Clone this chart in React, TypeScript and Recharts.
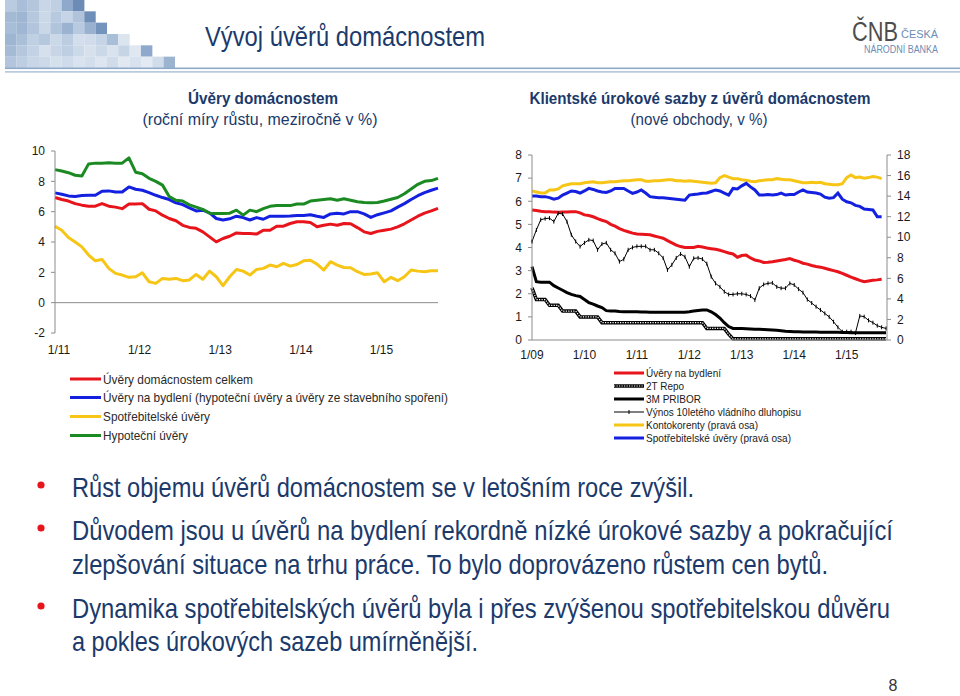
import React from "react";
import { LineChart, Line, XAxis, YAxis, ReferenceLine } from "recharts";

const FONT = "'Liberation Sans', Arial, Helvetica, sans-serif";
const NARROW = "'Liberation Sans Narrow', 'Arial Narrow', 'Liberation Sans', Arial, sans-serif";
const NAVY = "#1b3a6b";
const RED = "#e8141c";
const BLUE = "#1420e0";
const YELLOW = "#f6c515";
const GREEN = "#1c8a22";
const AXIS = "#8c8c8c";

function monthLabels(startYear: number, count: number): string[] {
  const out: string[] = [];
  for (let i = 0; i < count; i++) {
    const m = (i % 12) + 1;
    const y = (startYear + Math.floor(i / 12)) % 100;
    out.push(`${m}/${String(y).padStart(2, "0")}`);
  }
  return out;
}

// ---------- Left chart: Úvěry domácnostem (Jan 2011 – Oct 2015) ----------
const leftCategories = monthLabels(2011, 58);
const leftXTicks = ["1/11", "1/12", "1/13", "1/14", "1/15"];
const leftYTicks = [-2, 0, 2, 4, 6, 8, 10];

const uveryCelkem = [6.93, 6.8, 6.7, 6.53, 6.43, 6.36, 6.36, 6.53, 6.36, 6.3, 6.2, 6.5, 6.5, 6.53, 6.16, 6.05, 5.77, 5.55, 5.4, 5.1, 4.96, 4.9, 4.67, 4.34, 4.01, 4.23, 4.38, 4.6, 4.56, 4.56, 4.52, 4.78, 4.78, 5.04, 5.04, 5.22, 5.33, 5.33, 5.28, 5.0, 5.1, 5.18, 5.1, 5.22, 5.2, 4.95, 4.67, 4.56, 4.7, 4.78, 4.85, 5.0, 5.2, 5.45, 5.7, 5.9, 6.05, 6.22];
const uveryBydleni = [7.24, 7.15, 7.04, 7.0, 7.06, 7.08, 7.08, 7.35, 7.37, 7.3, 7.3, 7.63, 7.48, 7.41, 7.26, 7.08, 6.93, 6.8, 6.58, 6.47, 6.25, 6.05, 6.1, 5.92, 5.55, 5.45, 5.53, 5.7, 5.61, 5.45, 5.61, 5.5, 5.7, 5.7, 5.7, 5.72, 5.75, 5.75, 5.8, 5.7, 5.62, 5.85, 5.9, 5.85, 6.0, 6.0, 5.85, 5.62, 5.8, 5.92, 6.05, 6.3, 6.53, 6.8, 7.05, 7.25, 7.41, 7.55];
const uverySpotrebitelske = [5.04, 4.78, 4.3, 4.0, 3.68, 3.14, 2.76, 2.85, 2.26, 1.93, 1.82, 1.67, 1.71, 1.97, 1.38, 1.27, 1.6, 1.54, 1.6, 1.45, 1.5, 1.86, 1.54, 2.08, 1.71, 1.12, 1.71, 2.19, 2.08, 1.82, 2.19, 2.26, 2.48, 2.37, 2.59, 2.41, 2.52, 2.76, 2.8, 2.54, 2.15, 2.7, 2.48, 2.32, 2.3, 2.04, 1.86, 1.89, 1.97, 1.38, 1.67, 1.45, 1.71, 2.15, 2.08, 2.04, 2.1, 2.1];
const uveryHypotecni = [8.77, 8.68, 8.57, 8.4, 8.35, 9.15, 9.2, 9.2, 9.22, 9.2, 9.2, 9.55, 8.6, 8.5, 8.2, 8.0, 7.75, 7.0, 6.75, 6.7, 6.45, 6.3, 6.15, 5.9, 5.88, 5.88, 5.9, 6.1, 5.77, 6.1, 6.0, 6.2, 6.35, 6.4, 6.4, 6.4, 6.5, 6.5, 6.7, 6.75, 6.8, 6.85, 6.75, 6.85, 6.75, 6.65, 6.6, 6.58, 6.6, 6.7, 6.82, 6.93, 7.18, 7.5, 7.8, 8.0, 8.05, 8.2];

const leftSeries = [
  { key: "celkem", name: "Úvěry domácnostem celkem", color: RED, values: uveryCelkem, tl: 150 },
  { key: "bydleni", name: "Úvěry na bydlení (hypoteční úvěry a úvěry ze stavebního spoření)", color: BLUE, values: uveryBydleni, tl: 345 },
  { key: "spotrebitelske", name: "Spotřebitelské úvěry", color: YELLOW, values: uverySpotrebitelske, tl: 107 },
  { key: "hypotecni", name: "Hypoteční úvěry", color: GREEN, values: uveryHypotecni, tl: 85 },
];

const leftData = leftCategories.map((m, i) => {
  const row: any = { m };
  leftSeries.forEach((s) => (row[s.key] = s.values[i] ?? null));
  return row;
});

// ---------- Right chart: Klientské úrokové sazby (Jan 2009 – Oct 2015) ----------
const rightCategories = monthLabels(2009, 82);
const rightXTicks = ["1/09", "1/10", "1/11", "1/12", "1/13", "1/14", "1/15"];
const rightLeftTicks = [0, 1, 2, 3, 4, 5, 6, 7, 8];
const rightRightTicks = [0, 2, 4, 6, 8, 10, 12, 14, 16, 18];

const sazbyBydleni = [5.62, 5.6, 5.57, 5.55, 5.55, 5.53, 5.52, 5.53, 5.54, 5.55, 5.55, 5.5, 5.41, 5.38, 5.33, 5.25, 5.18, 5.12, 5.0, 4.92, 4.82, 4.74, 4.68, 4.62, 4.58, 4.57, 4.56,
  4.55, 4.5, 4.45, 4.4, 4.3, 4.2, 4.1, 4.04, 4.0, 4.0, 4.0, 4.05, 4.02, 3.98, 3.95, 3.92, 3.88, 3.82, 3.76, 3.72, 3.58, 3.65, 3.67, 3.55, 3.46, 3.42, 3.35, 3.36, 3.38,
  3.42, 3.45, 3.48, 3.52, 3.45, 3.4, 3.32, 3.28, 3.22, 3.18, 3.15, 3.1, 3.05, 3.0, 2.95, 2.88, 2.8, 2.72, 2.65, 2.58, 2.52, 2.55, 2.58, 2.6, 2.63];
const repo2T = [2.25, 1.75, 1.75, 1.75, 1.5, 1.5, 1.5, 1.25, 1.25, 1.25, 1.25, 1.0, 1.0, 1.0, 1.0, 1.0,
  0.75, 0.75, 0.75, 0.75, 0.75, 0.75, 0.75, 0.75, 0.75, 0.75, 0.75, 0.75, 0.75, 0.75, 0.75, 0.75, 0.75, 0.75, 0.75, 0.75, 0.75, 0.75, 0.75, 0.75,
  0.5, 0.5, 0.5, 0.5, 0.5, 0.25,
  0.05, 0.05, 0.05, 0.05, 0.05, 0.05, 0.05, 0.05, 0.05, 0.05, 0.05, 0.05, 0.05, 0.05, 0.05, 0.05, 0.05, 0.05,
  0.05, 0.05, 0.05, 0.05, 0.05, 0.05, 0.05, 0.05, 0.05, 0.05, 0.05, 0.05, 0.05, 0.05, 0.05, 0.05, 0.05, 0.05];
const pribor3M = [3.17, 2.52, 2.5, 2.5, 2.5, 2.35, 2.25, 2.15, 2.05, 1.97, 1.92, 1.88, 1.75, 1.62, 1.55, 1.47, 1.4, 1.27,
  1.25, 1.25, 1.23, 1.22, 1.22, 1.22, 1.22, 1.21, 1.21, 1.2, 1.2, 1.2, 1.2, 1.2, 1.2, 1.2, 1.2, 1.2, 1.22, 1.25, 1.28, 1.3, 1.3,
  1.22, 1.1, 0.95, 0.75, 0.58, 0.5, 0.5, 0.5, 0.49, 0.48, 0.47, 0.46, 0.45, 0.44, 0.43,
  0.42, 0.4, 0.38, 0.37, 0.36, 0.36, 0.35, 0.35, 0.35, 0.35, 0.34, 0.34, 0.34, 0.33, 0.33, 0.32, 0.32, 0.31, 0.31, 0.31, 0.31, 0.31, 0.31, 0.31, 0.31, 0.31];
const vynos10Y = [4.26, 4.76, 5.2, 5.25, 5.27, 5.12, 5.48, 5.45, 5.12, 4.55, 4.26, 4.04, 4.2, 4.33, 4.3, 3.9, 4.15, 4.2, 3.9, 3.75, 3.39, 3.49, 3.9, 4.0, 4.05, 4.05, 4.05, 3.9,
  3.9, 3.75, 3.55, 3.03, 3.25, 3.55, 3.72, 3.6, 3.17, 3.53, 3.55, 3.5, 3.3, 2.74, 2.45, 2.3, 2.09, 1.97, 1.97, 2.0, 2.0, 1.97, 1.9, 1.73, 2.24, 2.4, 2.45, 2.47,
  2.3, 2.24, 2.24, 2.45, 2.38, 2.2, 2.05, 1.75, 1.6, 1.44, 1.3, 1.15, 1.0, 0.79, 0.55, 0.36, 0.36, 0.36, 0.3, 1.04, 1.01, 0.85, 0.75, 0.62, 0.55, 0.5];
const kontokorenty = [14.5, 14.4, 14.3, 14.3, 14.6, 14.6, 14.7, 15.0, 15.1, 15.2, 15.2, 15.2, 15.3, 15.35, 15.4, 15.3, 15.3, 15.35, 15.4, 15.4,
  15.45, 15.5, 15.5, 15.55, 15.6, 15.6, 15.45, 15.45, 15.5, 15.5, 15.55, 15.6, 15.6, 15.5, 15.5, 15.45, 15.5, 15.45, 15.4, 15.35,
  15.3, 15.25, 15.3, 15.8, 16.0, 15.85, 15.7, 15.7, 15.6, 15.55, 15.45, 15.4, 15.5, 15.55, 15.6, 15.6, 15.7, 15.65, 15.6, 15.6,
  15.5, 15.4, 15.3, 15.3, 15.35, 15.3, 15.35, 15.2, 15.15, 15.1, 15.1, 15.2, 15.8, 16.05, 15.8, 15.85, 15.75, 15.8, 15.9, 15.85, 15.7];
const spotrebitelskeSazby = [14.0, 14.0, 13.95, 13.95, 13.85, 13.7, 13.8, 14.1, 14.3, 14.5, 14.45, 14.3, 14.5, 14.75, 14.65, 14.5, 14.4, 14.35, 14.5, 14.75, 14.75, 14.75, 14.5, 14.27, 14.4, 14.6, 14.3,
  13.95, 13.9, 13.85, 13.85, 13.8, 13.75, 13.7, 13.65, 13.6, 14.1, 14.15, 14.2, 14.27, 14.3, 14.45, 14.6, 14.5, 14.3, 14.1,
  14.75, 14.7, 15.0, 15.24, 14.9, 14.6, 14.1, 14.1, 14.15, 14.1,
  14.15, 14.3, 14.1, 14.15, 14.15, 14.4, 14.6, 14.4, 14.35, 14.3, 14.2, 13.9, 13.8, 13.85, 14.3, 13.7, 13.45, 13.35, 13.1, 13.0, 12.75, 12.7, 12.65, 12.0, 12.0];

const rightData = rightCategories.map((m, i) => ({
  m,
  bydleni: sazbyBydleni[i] ?? null,
  repo: repo2T[i] ?? null,
  pribor: pribor3M[i] ?? null,
  vynos: vynos10Y[i] ?? null,
  konto: kontokorenty[i] ?? null,
  spotr: spotrebitelskeSazby[i] ?? null,
}));

const rightLegend = [
  { name: "Úvěry na bydlení", kind: "solid", color: RED, tl: 75 },
  { name: "2T Repo", kind: "hatch", color: "#000", tl: 38 },
  { name: "3M PRIBOR", kind: "solid", color: "#000", tl: 55 },
  { name: "Výnos 10letého vládního dluhopisu", kind: "thin", color: "#000", tl: 155 },
  { name: "Kontokorenty (pravá osa)", kind: "solid", color: YELLOW, tl: 112 },
  { name: "Spotřebitelské úvěry (pravá osa)", kind: "solid", color: BLUE, tl: 145 },
];

const bullets = [
  { text: "Růst objemu úvěrů domácnostem se v letošním roce zvýšil.", y: 497, w: 622, dot: true },
  { text: "Důvodem jsou u úvěrů na bydlení rekordně nízké úrokové sazby a pokračující", y: 540, w: 821, dot: true },
  { text: "zlepšování situace na trhu práce. To bylo doprovázeno růstem cen bytů.", y: 574, w: 756, dot: false },
  { text: "Dynamika spotřebitelských úvěrů byla i přes zvýšenou spotřebitelskou důvěru", y: 618, w: 818, dot: true },
  { text: "a pokles úrokových sazeb umírněnější.", y: 651, w: 406, dot: false },
];

const mosaic: string[][] = [
  ["#b9cbe0", "#a9bed8", "#b3c6dc", "#c8d6e7", "#c0d0e3", "#8ea9cb", "#6c8bb6"],
  ["#a3b9d4", "#9fb6d2", "#b6c8dd", "#cbd8e8", "#b7c9df", "#c5d4e6", "#b0c3db", "#6f8eb8"],
  ["#a8bdd7", "#a0b7d3", "#b2c5dc", "#c9d7e7", "#b0c4dc", "#9bb3d1", "#b8cae0", "#9ab2d0", "#7493bd"],
  ["#9fb6d2", "#aabfd8", "#c0d0e3", "#b6c8de", "#cad8e8", "#bccce1", "#d2deec", "#d0dcea", "#c5d4e6", "#a9bfd8", "#dbe5f0"],
  ["#a4bad5", "#b5c7dd", "#c3d2e5", "#d6e0ed", "#c7d5e7", "#bfcfe3", "#ccd9e9", "#d7e1ee", "#cbd8e8", "#d9e3ef", "#c6d5e6", "#dfe7f1", "#8fa9cc"],
  ["#b2c5dc", "#bdcde2", "#c8d6e7", "#cdd9e9", "#d5e0ed", "#cfdbea", "#d9e3ef", "#d3deec", "#dde6f0", "#d1dceb", "#e1e8f2", "#d8e2ee", "#e3eaf3", "#d0dcea", "#9db4d1"],
];

// Text squeezed horizontally (the slide uses a narrow face)
function FitText(props: any) {
  const { x, y, w, sx, size, anchor = "start", weight = "normal", fill, family = FONT, children } = props;
  return (
    <text
      transform={`translate(${x} ${y}) scale(${sx} 1)`}
      x={0}
      y={0}
      textAnchor={anchor}
      fontSize={size}
      fontWeight={weight}
      fontFamily={family}
      fill={fill}
      textLength={w / sx}
      lengthAdjust="spacingAndGlyphs"
    >
      {children}
    </text>
  );
}

const makeXTick = (dx: number, dy: number) => (props: any) => {
  const { x, y, payload } = props;
  return (
    <text x={x + dx} y={y + dy} textAnchor="middle" fontSize={12} fontFamily={FONT} fill="#1a1a1a">
      {payload.value}
    </text>
  );
};

const CrossDot = (props: any) => {
  const { cx, cy, index } = props;
  if (cx == null || cy == null || isNaN(cy)) return <g key={`c${index}`} />;
  return (
    <g key={`c${index}`}>
      <line x1={cx} y1={cy - 2} x2={cx} y2={cy + 2} stroke="#000" strokeWidth={1} />
    </g>
  );
};

const yTick = { fontSize: 12, fontFamily: FONT, fill: "#1a1a1a" };

function Slide() {
  return (
    <svg width={960} height={696} style={{ position: "absolute", left: 0, top: 0 }}>
      <rect x={0} y={0} width={960} height={696} fill="#ffffff" />
      {mosaic.map((row, r) =>
        row.map((c, k) => (
          <rect key={`${r}-${k}`} x={5 + k * 11.33} y={r * 11.33} width={11.4} height={11.4} fill={c} />
        ))
      )}
      <rect x={5} y={67.5} width={955} height={1.6} fill="#8fa9c9" />
      <rect x={5} y={71.2} width={955} height={1.4} fill="#a9bed6" />
      <FitText x={205} y={46} w={280} sx={0.95} size={27} fill={NAVY}>Vývoj úvěrů domácnostem</FitText>

      <FitText x={852} y={41} w={46} sx={0.72} size={28} fill="#4d4d4d">ČNB</FitText>
      <FitText x={901} y={38} w={37} sx={0.85} size={10} fill="#6d8db5">ČESKÁ</FitText>
      <FitText x={864} y={53} w={74} sx={0.85} size={10} fill="#6d8db5">NÁRODNÍ BANKA</FitText>

      <FitText x={263} y={104} w={150} sx={0.92} size={16} weight="bold" anchor="middle" fill={NAVY}>Úvěry domácnostem</FitText>
      <FitText x={260} y={125} w={235} sx={0.9} size={16} anchor="middle" fill={NAVY}>(roční míry růstu, meziročně v %)</FitText>
      <FitText x={700} y={104} w={341} sx={0.87} size={16} weight="bold" anchor="middle" fill={NAVY}>Klientské úrokové sazby z úvěrů domácnostem</FitText>
      <FitText x={699} y={125} w={137} sx={0.9} size={16} anchor="middle" fill={NAVY}>(nové obchody, v %)</FitText>

      {leftSeries.map((s, i) => {
        const cy = [379, 397.5, 416.5, 435.5][i];
        return (
          <g key={s.key}>
            <line x1={70} y1={cy} x2={101} y2={cy} stroke={s.color} strokeWidth={3} />
            <text x={103} y={cy + 4.5} fontSize={13} fontFamily={FONT} fill="#2a2a2a" textLength={s.tl} lengthAdjust="spacingAndGlyphs">
              {s.name}
            </text>
          </g>
        );
      })}

      {rightLegend.map((s, i) => {
        const cy = 373 + i * 13;
        return (
          <g key={s.name}>
            {s.kind === "solid" && <line x1={614} y1={cy} x2={644} y2={cy} stroke={s.color} strokeWidth={3} />}
            {s.kind === "hatch" && (
              <g>
                <line x1={614} y1={cy} x2={644} y2={cy} stroke="#000" strokeWidth={3.5} />
                <line x1={614} y1={cy} x2={644} y2={cy} stroke="#fff" strokeWidth={1.2} strokeDasharray="1.2 1.3" />
              </g>
            )}
            {s.kind === "thin" && (
              <g>
                <line x1={614} y1={cy} x2={644} y2={cy} stroke="#000" strokeWidth={1} />
                <line x1={629} y1={cy - 2} x2={629} y2={cy + 2} stroke="#000" strokeWidth={1} />
              </g>
            )}
            <text x={646} y={cy + 4} fontSize={10.5} fontFamily={FONT} fill="#1a1a1a" textLength={s.tl} lengthAdjust="spacingAndGlyphs">
              {s.name}
            </text>
          </g>
        );
      })}

      {bullets.map((b) => (
        <g key={b.text}>
          {b.dot && <circle cx={41} cy={b.y - 12} r={3.6} fill="#e8141c" />}
          <FitText x={72} y={b.y} w={b.w} sx={0.82} size={28} family={NARROW} fill={NAVY}>{b.text}</FitText>
        </g>
      ))}
      <text x={893} y={691} textAnchor="middle" fontSize={16} fontFamily={FONT} fill="#333">
        8
      </text>
    </svg>
  );
}

export default function App() {
  return (
    <div style={{ position: "absolute", left: 0, top: 0, width: 960, height: 696, background: "#fff", overflow: "hidden" }}>
      <Slide />
      <div style={{ position: "absolute", left: 0, top: 140 }}>
        <LineChart width={460} height={230} data={leftData} margin={{ top: 11, right: 22, left: 15, bottom: 0 }}>
          <XAxis dataKey="m" ticks={leftXTicks} interval={0} axisLine={false} tickLine={false} tickSize={0} tickMargin={0} height={37} tick={makeXTick(4, 21)} />
          <YAxis domain={[-2, 10]} ticks={leftYTicks} width={40} axisLine={{ stroke: AXIS }} tickLine={{ stroke: AXIS }} tickSize={4} tickMargin={6} tick={yTick} interval={0} />
          <ReferenceLine y={0} stroke={AXIS} strokeWidth={1} />
          {leftSeries.map((s) => (
            <Line key={s.key} type="linear" dataKey={s.key} stroke={s.color} strokeWidth={3} dot={false} isAnimationActive={false} strokeLinejoin="round" />
          ))}
        </LineChart>
      </div>
      <div style={{ position: "absolute", left: 480, top: 140 }}>
        <LineChart width={440} height={230} data={rightData} margin={{ top: 15, right: 3, left: 12, bottom: 0 }}>
          <XAxis dataKey="m" ticks={rightXTicks} interval={0} axisLine={{ stroke: AXIS }} tickLine={false} tickSize={0} tickMargin={0} height={30} tick={makeXTick(0, 19)} padding={{ left: 0, right: 1 }} />
          <YAxis yAxisId="left" domain={[0, 8]} ticks={rightLeftTicks} width={40} axisLine={{ stroke: AXIS }} tickLine={{ stroke: AXIS }} tickSize={4} tickMargin={6} tick={yTick} interval={0} />
          <YAxis yAxisId="right" orientation="right" domain={[0, 18]} ticks={rightRightTicks} width={30} axisLine={{ stroke: AXIS }} tickLine={{ stroke: AXIS }} tickSize={4} tickMargin={6} tick={yTick} interval={0} />
          <Line yAxisId="left" type="linear" dataKey="bydleni" stroke={RED} strokeWidth={3} dot={false} isAnimationActive={false} />
          <Line yAxisId="left" type="linear" dataKey="repo" stroke="#000" strokeWidth={3.5} dot={false} isAnimationActive={false} />
          <Line yAxisId="left" type="linear" dataKey="repo" stroke="#fff" strokeWidth={1.2} strokeDasharray="1.2 1.3" dot={false} isAnimationActive={false} />
          <Line yAxisId="left" type="linear" dataKey="pribor" stroke="#000" strokeWidth={3} dot={false} isAnimationActive={false} />
          <Line yAxisId="left" type="linear" dataKey="vynos" stroke="#000" strokeWidth={1} dot={CrossDot} isAnimationActive={false} />
          <Line yAxisId="right" type="linear" dataKey="konto" stroke={YELLOW} strokeWidth={3} dot={false} isAnimationActive={false} />
          <Line yAxisId="right" type="linear" dataKey="spotr" stroke={BLUE} strokeWidth={3} dot={false} isAnimationActive={false} />
        </LineChart>
      </div>
    </div>
  );
}
